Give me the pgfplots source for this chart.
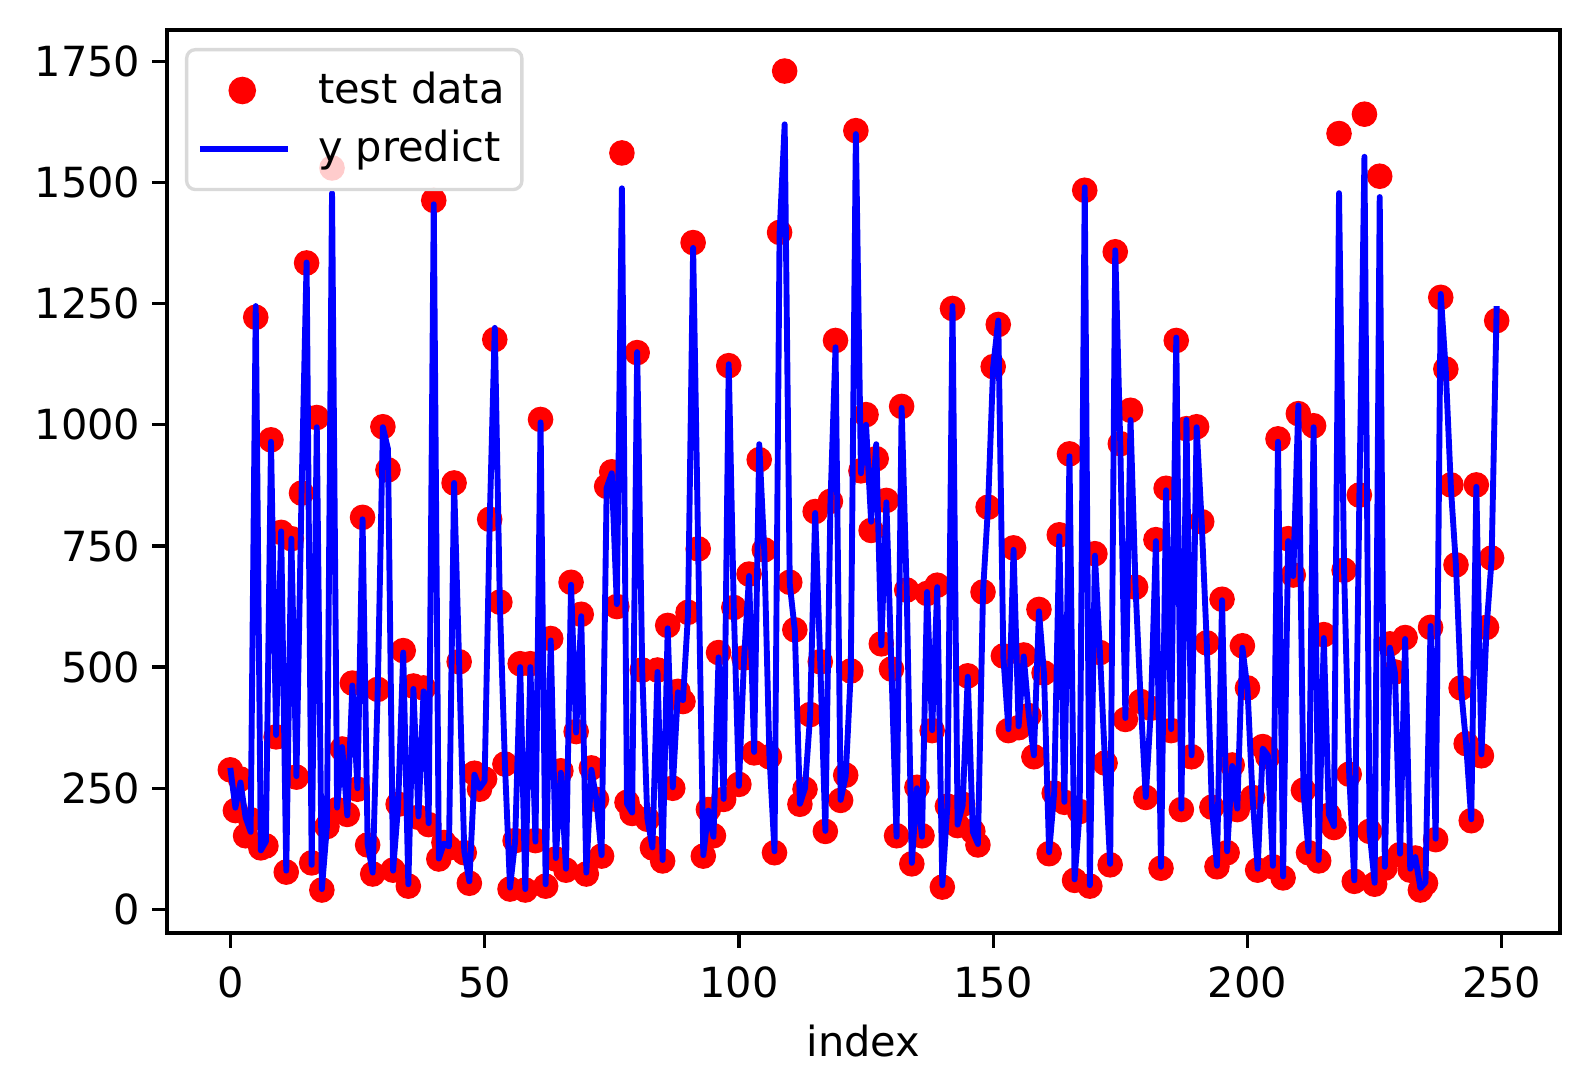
\documentclass[border=0pt]{standalone}
\usepackage{fontspec}
\setmainfont{DejaVu Sans}
\usepackage{pgfplots}
\usepackage{pgfplotstable}
\pgfplotsset{compat=1.18}
\usetikzlibrary{calc}

% index, test data, y predict
\pgfplotstableread{
i test pred
0 288 292
1 204 210
2 269 262
3 152 190
4 185 160
5 1222 1245
6 127 122
7 131 140
8 969 965
9 356 360
10 778 780
11 77 80
12 765 765
13 273 275
14 859 855
15 1334 1335
16 96 92
17 1015 995
18 40 42
19 171 172
20 1530 1478
21 206 210
22 331 335
23 196 194
24 467 462
25 248 250
26 809 805
27 133 135
28 73 76
29 454 458
30 996 995
31 907 950
32 81 80
33 217 215
34 534 530
35 48 52
36 461 455
37 190 192
38 457 450
39 175 178
40 1463 1455
41 104 105
42 138 136
43 127 130
44 880 880
45 511 505
46 117 120
47 54 58
48 281 278
49 248 250
50 269 265
51 805 800
52 1176 1200
53 634 630
54 300 298
55 42 45
56 142 140
57 507 500
58 40 42
59 507 500
60 142 140
61 1011 1005
62 48 52
63 559 555
64 104 106
65 286 282
66 81 84
67 675 670
68 367 365
69 609 605
70 73 76
71 292 288
72 227 225
73 110 112
74 873 870
75 903 900
76 625 630
77 1561 1488
78 221 218
79 198 200
80 1149 1150
81 494 490
82 186 188
83 127 128
84 494 490
85 100 102
86 586 580
87 250 252
88 450 448
89 429 432
90 613 610
91 1376 1365
92 744 740
93 110 112
94 206 204
95 152 150
96 530 520
97 227 228
98 1122 1125
99 623 620
100 258 255
101 519 515
102 692 688
103 323 325
104 928 960
105 742 738
106 315 318
107 117 120
108 1397 1395
109 1730 1620
110 675 672
111 577 575
112 217 218
113 248 250
114 402 400
115 821 818
116 511 508
117 161 162
118 842 838
119 1174 1160
120 225 226
121 277 275
122 492 490
123 1607 1600
124 905 900
125 1021 1000
126 782 800
127 930 960
128 548 545
129 844 840
130 496 495
131 152 150
132 1038 1035
133 659 655
134 94 96
135 252 250
136 152 150
137 652 655
138 369 370
139 669 665
140 46 50
141 213 215
142 1240 1245
143 173 175
144 217 215
145 482 480
146 161 160
147 133 135
148 655 655
149 830 835
150 1120 1120
151 1207 1215
152 523 520
153 369 372
154 746 742
155 375 378
156 525 522
157 400 402
158 315 318
159 619 615
160 488 485
161 115 118
162 240 242
163 773 770
164 221 222
165 940 935
166 60 62
167 202 200
168 1484 1490
169 48 50
170 734 730
171 530 528
172 302 300
173 92 94
174 1357 1360
175 961 955
176 392 395
177 1030 1010
178 665 662
179 429 430
180 231 232
181 415 412
182 763 760
183 85 88
184 869 865
185 369 372
186 1174 1180
187 206 208
188 992 1010
189 315 318
190 996 995
191 800 798
192 550 548
193 211 212
194 88 90
195 640 638
196 117 120
197 298 296
198 206 208
199 544 540
200 457 455
201 231 232
202 81 84
203 336 332
204 315 318
205 88 90
206 971 965
207 65 68
208 765 760
209 690 688
210 1023 1040
211 246 248
212 117 120
213 998 995
214 100 102
215 567 560
216 194 196
217 169 172
218 1601 1478
219 700 698
220 279 280
221 58 60
222 855 850
223 1641 1553
224 161 162
225 52 55
226 1513 1470
227 85 88
228 548 540
229 490 488
230 113 115
231 561 558
232 81 84
233 106 108
234 40 44
235 54 56
236 582 585
237 144 146
238 1263 1270
239 1115 1110
240 876 870
241 711 708
242 457 455
243 342 340
244 183 186
245 876 872
246 317 320
247 582 580
248 725 722
249 1215 1245
}\datatable

\begin{document}
\begin{tikzpicture}
\begin{axis}[
    scale only axis,
    width=5.572in,
    height=3.612in,
    xmin=-12.45, xmax=261.45,
    ymin=-48.7, ymax=1814.7,
    clip mode=individual,
    xtick={0,50,...,250},
    ytick={0,250,...,1750},
    tick align=outside,
    tick pos=left,
    major tick length=4.2pt,
    tick style={black, line width=0.96pt},
    axis line style={line width=0.96pt},
    /pgf/number format/assume math mode=true,
    /pgf/number format/1000 sep={},
    ticklabel style={font=\fontsize{12}{14}\selectfont},
    xticklabel style={yshift=-2pt},
    xlabel={index},
    xlabel style={font=\fontsize{12}{14}\selectfont, yshift=-1pt},
    legend cell align=left,
    legend style={
        at={(0,1)}, anchor=north west,
        xshift=5.2pt, yshift=-5.2pt,
        draw=black!15, line width=0.96pt, rounded corners=2.5pt,
        fill=white, fill opacity=0.8, text opacity=1, draw opacity=1,
        font=\fontsize{12}{14}\selectfont,
        row sep=2.2pt, column sep=6pt, inner xsep=3pt, inner ysep=4.5pt,
    },
]
\addplot[only marks, mark=*, mark size=3.5pt, color=red,
    mark options={draw=red, fill=red},
    legend image code/.code={\fill[red, fill opacity=1] (0.43cm,0cm) circle (3.5pt);}]
    table[x=i, y=test] {\datatable};
\addlegendentry{test data}
\addplot[blue, line width=1.7pt, line join=round, no markers,
    legend image code/.code={\draw[blue, line width=1.7pt, draw opacity=1] (0cm,0cm) -- (0.89cm,0cm);}]
    table[x=i, y=pred] {\datatable};
\addlegendentry{y predict}
\end{axis}
\path ($(current axis.south west)+(-0.668in,-0.632in)$) rectangle ($(current axis.north east)+(0.12in,0.12in)$);
\end{tikzpicture}
\end{document}
